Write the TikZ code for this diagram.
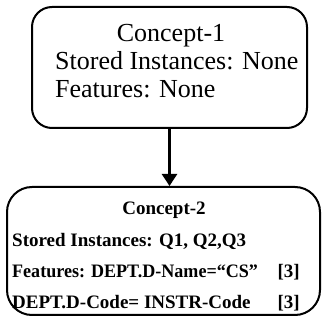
\documentclass[tikz,border=0pt]{standalone}
\usepackage{fontspec}
\setmainfont{Liberation Serif}
\usetikzlibrary{arrows.meta}
\tikzset{
  concept/.style={draw, line width=2pt, inner sep=0pt},
  bigtext/.style={inner sep=0pt, font=\fontsize{26}{28}\selectfont},
  smalltext/.style={inner sep=0pt, font=\fontsize{19}{22}\selectfont\bfseries},
  link/.style={line width=2.6pt, -{Triangle[length=12pt,width=15pt]}}
}
\begin{document}
\begin{tikzpicture}[x=1pt,y=1pt]
  \useasboundingbox (0,0) rectangle (324,-320);
  % the two concept boxes
  \node[concept, rounded corners=20pt, minimum width=275pt, minimum height=121pt] (c1) at (169.5,-67.5) {};
  \node[concept, rounded corners=25pt, minimum width=313pt, minimum height=128pt] (c2) at (163.5,-251) {};
  % contents of the first concept
  \node[bigtext, anchor=base] (c1title) at (171,-42) {Concept-1};
  \node[bigtext, anchor=base west] (c1inst) at (55,-70) {Stored Instances: None};
  \node[bigtext, anchor=base west] (c1feat) at (55,-98) {Features: None};
  % contents of the second concept
  \node[smalltext, anchor=base] (c2title) at (164,-215) {Concept-2};
  \node[smalltext, anchor=base west] (c2inst) at (12,-247) {Stored Instances: Q1, Q2,Q3};
  \node[smalltext, anchor=base west] (c2feat) at (12,-278) {\scalebox{0.95}[1]{Features: DEPT.D-Name=“CS”}};
  \node[smalltext, anchor=base west] (c2code) at (12,-309) {DEPT.D-Code= INSTR-Code};
  \node[smalltext, anchor=base east] (c2featn) at (300,-278) {[3]};
  \node[smalltext, anchor=base east] (c2coden) at (300,-309) {[3]};
  % specialisation link
  \draw[link] (c1.south) -- (c2.north -| c1.south);
\end{tikzpicture}
\end{document}
